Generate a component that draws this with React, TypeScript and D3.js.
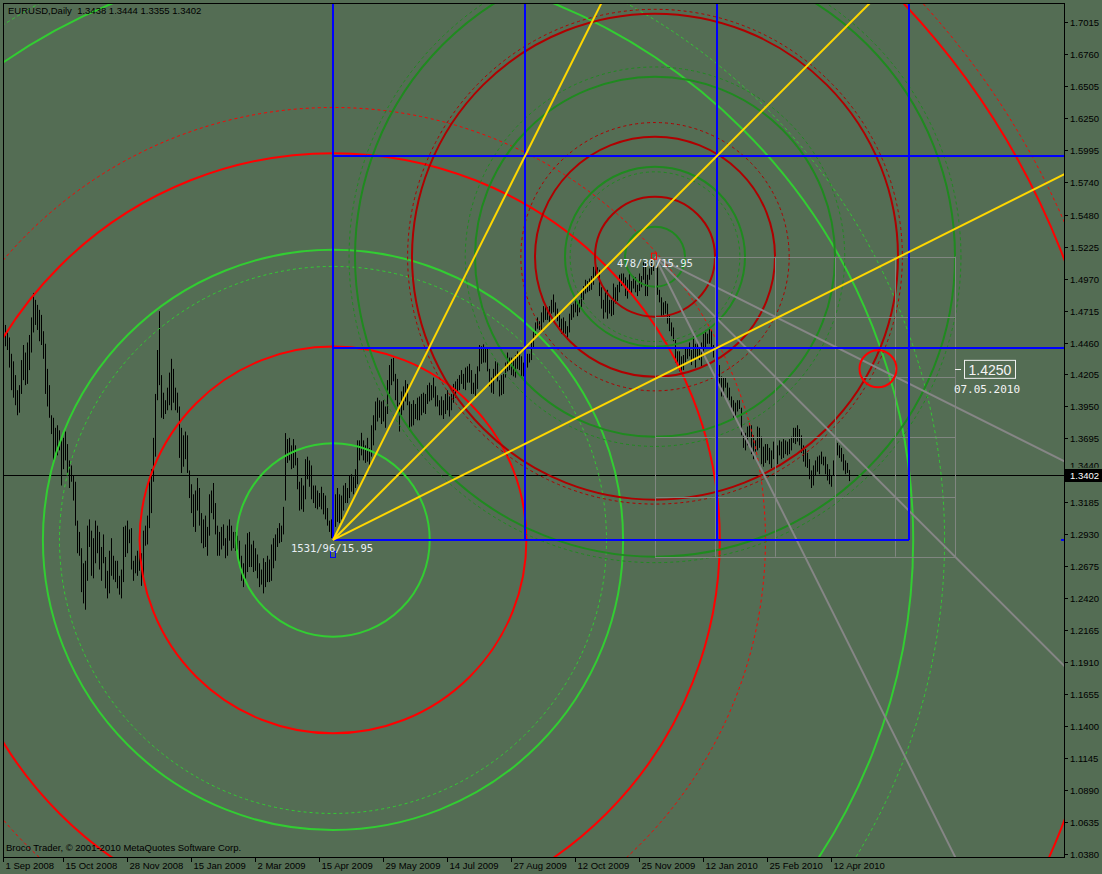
import { useEffect, useRef } from 'react';
import * as d3 from 'd3';

const W = 1102;
const H = 874;

// daily bars, 1 Sep 2008 .. 21 Apr 2010
const highs = [
  1.472, 1.46, 1.454, 1.45, 1.437, 1.431, 1.42, 1.408, 1.412, 1.432,
  1.444, 1.438, 1.446, 1.452, 1.466, 1.4855, 1.48, 1.476, 1.472, 1.468,
  1.455, 1.445, 1.425, 1.412, 1.388, 1.386, 1.378, 1.38, 1.376, 1.368,
  1.37, 1.375, 1.365, 1.352, 1.348, 1.34, 1.335, 1.304, 1.295, 1.282,
  1.27, 1.272, 1.3, 1.305, 1.296, 1.29, 1.304, 1.3, 1.295, 1.283,
  1.293, 1.275, 1.264, 1.28, 1.29, 1.276, 1.272, 1.272, 1.26, 1.265,
  1.299, 1.3, 1.304, 1.297, 1.298, 1.272, 1.276, 1.28, 1.285, 1.278,
  1.296, 1.3, 1.308, 1.338, 1.345, 1.37, 1.405, 1.44, 1.471, 1.42,
  1.406, 1.4, 1.41, 1.422, 1.433, 1.425, 1.41, 1.406, 1.395, 1.378,
  1.372, 1.375, 1.372, 1.344, 1.333, 1.325, 1.328, 1.338, 1.33, 1.31,
  1.305, 1.308, 1.299, 1.325, 1.328, 1.334, 1.318, 1.3, 1.295, 1.299,
  1.301, 1.29, 1.3, 1.305, 1.3, 1.295, 1.295, 1.292, 1.288, 1.276,
  1.27, 1.285, 1.294, 1.295, 1.285, 1.288, 1.282, 1.277, 1.27, 1.265,
  1.274, 1.271, 1.276, 1.273, 1.285, 1.29, 1.293, 1.298, 1.302, 1.3,
  1.315, 1.3738, 1.369, 1.37, 1.364, 1.369, 1.364, 1.354, 1.335, 1.338,
  1.332, 1.353, 1.355, 1.352, 1.348, 1.332, 1.332, 1.328, 1.326, 1.331,
  1.326, 1.324, 1.314, 1.304, 1.305, 1.306, 1.325, 1.33, 1.325, 1.324,
  1.332, 1.334, 1.33, 1.34, 1.341, 1.339, 1.345, 1.368, 1.368, 1.374,
  1.368, 1.364, 1.37, 1.362, 1.38, 1.388, 1.399, 1.402, 1.4, 1.399,
  1.4, 1.395, 1.416, 1.428, 1.433, 1.4338, 1.421, 1.417, 1.398, 1.407,
  1.411, 1.416, 1.413, 1.399, 1.397, 1.4, 1.397, 1.402, 1.403, 1.405,
  1.406, 1.405, 1.412, 1.414, 1.412, 1.418, 1.411, 1.404, 1.4, 1.403,
  1.4, 1.405, 1.408, 1.403, 1.405, 1.413, 1.415, 1.417, 1.42, 1.424,
  1.421, 1.426, 1.427, 1.429, 1.424, 1.414, 1.421, 1.427, 1.444, 1.443,
  1.4445, 1.441, 1.442, 1.425, 1.418, 1.425, 1.431, 1.43, 1.416, 1.42,
  1.421, 1.43, 1.438, 1.434, 1.434, 1.433, 1.436, 1.439, 1.437, 1.435,
  1.43, 1.433, 1.437, 1.437, 1.446, 1.455, 1.462, 1.466, 1.463, 1.47,
  1.475, 1.475, 1.474, 1.475, 1.48, 1.4843, 1.478, 1.473, 1.468, 1.465,
  1.466, 1.463, 1.459, 1.469, 1.476, 1.477, 1.48, 1.479, 1.48, 1.486,
  1.491, 1.496, 1.495, 1.497, 1.499, 1.5063, 1.506, 1.506, 1.504, 1.49,
  1.48, 1.486, 1.488, 1.48, 1.48, 1.493, 1.49, 1.492, 1.5, 1.501,
  1.501, 1.498, 1.496, 1.501, 1.495, 1.499, 1.498, 1.492, 1.501, 1.499,
  1.51, 1.509, 1.5, 1.505, 1.511, 1.511, 1.5144, 1.506, 1.488, 1.482,
  1.478, 1.479, 1.477, 1.468, 1.462, 1.458, 1.448, 1.439, 1.439, 1.435,
  1.436, 1.442, 1.441, 1.446, 1.44, 1.451, 1.445, 1.448, 1.444, 1.446,
  1.453, 1.456, 1.453, 1.458, 1.456, 1.444, 1.442, 1.438, 1.428, 1.419,
  1.418, 1.418, 1.414, 1.41, 1.403, 1.4, 1.398, 1.4, 1.4, 1.394,
  1.375, 1.374, 1.379, 1.38, 1.38, 1.372, 1.368, 1.379, 1.378, 1.371,
  1.363, 1.365, 1.365, 1.362, 1.36, 1.367, 1.363, 1.364, 1.368, 1.367,
  1.369, 1.368, 1.367, 1.369, 1.371, 1.378, 1.378, 1.38, 1.377, 1.372,
  1.364, 1.361, 1.358, 1.353, 1.344, 1.348, 1.352, 1.355, 1.356, 1.359,
  1.355, 1.355, 1.349, 1.345, 1.34, 1.352, 1.369, 1.366, 1.364, 1.362,
  1.357, 1.352, 1.35, 1.3444,
];

const lows = [
  1.456, 1.443, 1.44, 1.426, 1.408, 1.402, 1.396, 1.388, 1.39, 1.405,
  1.416, 1.412, 1.413, 1.424, 1.438, 1.454, 1.46, 1.456, 1.447, 1.444,
  1.433, 1.405, 1.395, 1.386, 1.373, 1.352, 1.358, 1.356, 1.36, 1.332,
  1.345, 1.352, 1.34, 1.33, 1.335, 1.32, 1.3, 1.278, 1.276, 1.247,
  1.238, 1.233, 1.256, 1.283, 1.26, 1.258, 1.27, 1.278, 1.265, 1.256,
  1.27, 1.25, 1.242, 1.246, 1.26, 1.257, 1.255, 1.25, 1.245, 1.242,
  1.255, 1.275, 1.278, 1.286, 1.265, 1.256, 1.262, 1.26, 1.264, 1.252,
  1.26, 1.284, 1.285, 1.298, 1.31, 1.335, 1.355, 1.4, 1.412, 1.386,
  1.385, 1.389, 1.392, 1.396, 1.392, 1.398, 1.392, 1.39, 1.354, 1.342,
  1.347, 1.353, 1.342, 1.322, 1.31, 1.299, 1.295, 1.312, 1.3, 1.286,
  1.282, 1.283, 1.276, 1.292, 1.31, 1.305, 1.293, 1.276, 1.276, 1.281,
  1.284, 1.274, 1.276, 1.288, 1.28, 1.282, 1.28, 1.281, 1.27, 1.256,
  1.251, 1.257, 1.263, 1.267, 1.267, 1.263, 1.264, 1.258, 1.251, 1.253,
  1.246, 1.251, 1.255, 1.255, 1.256, 1.266, 1.272, 1.283, 1.286, 1.287,
  1.293, 1.32, 1.35, 1.352, 1.345, 1.346, 1.348, 1.329, 1.312, 1.313,
  1.311, 1.321, 1.337, 1.331, 1.321, 1.318, 1.314, 1.313, 1.315, 1.313,
  1.309, 1.305, 1.3, 1.295, 1.29, 1.2886, 1.299, 1.303, 1.302, 1.305,
  1.312, 1.318, 1.318, 1.322, 1.327, 1.325, 1.33, 1.333, 1.352, 1.356,
  1.352, 1.35, 1.351, 1.345, 1.355, 1.364, 1.376, 1.383, 1.386, 1.381,
  1.383, 1.378, 1.389, 1.405, 1.412, 1.415, 1.4, 1.395, 1.375, 1.388,
  1.392, 1.399, 1.396, 1.376, 1.379, 1.38, 1.385, 1.384, 1.384, 1.388,
  1.39, 1.389, 1.397, 1.399, 1.4, 1.402, 1.395, 1.395, 1.388, 1.388,
  1.385, 1.389, 1.392, 1.387, 1.392, 1.398, 1.402, 1.407, 1.408, 1.413,
  1.409, 1.408, 1.414, 1.414, 1.405, 1.405, 1.403, 1.409, 1.423, 1.429,
  1.43, 1.43, 1.423, 1.411, 1.406, 1.405, 1.418, 1.415, 1.403, 1.404,
  1.405, 1.418, 1.423, 1.424, 1.42, 1.419, 1.418, 1.425, 1.424, 1.419,
  1.419, 1.422, 1.426, 1.43, 1.432, 1.442, 1.452, 1.457, 1.456, 1.456,
  1.462, 1.464, 1.464, 1.461, 1.469, 1.47, 1.466, 1.463, 1.458, 1.453,
  1.453, 1.453, 1.448, 1.454, 1.464, 1.466, 1.47, 1.467, 1.47, 1.474,
  1.48, 1.485, 1.486, 1.487, 1.488, 1.492, 1.497, 1.498, 1.483, 1.473,
  1.465, 1.47, 1.465, 1.469, 1.467, 1.468, 1.477, 1.479, 1.486, 1.491,
  1.492, 1.483, 1.481, 1.488, 1.484, 1.489, 1.486, 1.483, 1.487, 1.49,
  1.496, 1.483, 1.483, 1.496, 1.5, 1.503, 1.502, 1.484, 1.478, 1.466,
  1.468, 1.469, 1.461, 1.455, 1.451, 1.447, 1.43, 1.425, 1.423, 1.4218,
  1.424, 1.43, 1.433, 1.435, 1.428, 1.432, 1.426, 1.434, 1.432, 1.427,
  1.435, 1.442, 1.445, 1.445, 1.442, 1.434, 1.433, 1.427, 1.412, 1.403,
  1.403, 1.41, 1.402, 1.4, 1.393, 1.385, 1.386, 1.391, 1.393, 1.372,
  1.362, 1.36, 1.364, 1.37, 1.357, 1.353, 1.359, 1.36, 1.362, 1.349,
  1.347, 1.35, 1.352, 1.349, 1.346, 1.353, 1.344, 1.349, 1.356, 1.353,
  1.354, 1.357, 1.356, 1.357, 1.36, 1.366, 1.365, 1.367, 1.364, 1.358,
  1.351, 1.347, 1.346, 1.337, 1.33, 1.332, 1.34, 1.343, 1.341, 1.349,
  1.348, 1.341, 1.336, 1.333, 1.331, 1.34, 1.354, 1.356, 1.354, 1.351,
  1.344, 1.341, 1.342, 1.3355,
];

const dateLabels = [
  '1 Sep 2008', '15 Oct 2008', '28 Nov 2008', '15 Jan 2009', '2 Mar 2009',
  '15 Apr 2009', '29 May 2009', '14 Jul 2009', '27 Aug 2009', '12 Oct 2009',
  '25 Nov 2009', '12 Jan 2010', '25 Feb 2010', '12 Apr 2010',
];
const dateLabelStep = 32;

const priceLabels = [
  '1.7015', '1.6760', '1.6505', '1.6250', '1.5995', '1.5740', '1.5480', '1.5225', '1.4970',
  '1.4715', '1.4460', '1.4205', '1.3950', '1.3695', '1.3440', '1.3185', '1.2930', '1.2675',
  '1.2420', '1.2165', '1.1910', '1.1655', '1.1400', '1.1145', '1.0890', '1.0635', '1.0380',
];

const headerText = 'EURUSD,Daily  1.3438 1.3444 1.3355 1.3402';
const lastClose = 1.3402;
const copyright = 'Broco Trader, \u00a9 2001-2010 MetaQuotes Software Corp.';

// gann pivots: bar index, price, circle unit (bars), grid step (bars)
const pivotLow = { bar: 165, price: 1.2886, unit: 48.35, grid: 96, label: '1531/96/15.95' };
const pivotHigh = { bar: 326, price: 1.5144, unit: 15, grid: 30, label: '478/30/15.95' };
const solidSteps = [1, 2, 3, 4, 6, 8.1, 10];
const dashedSteps = [1, 2, 3, 4, 5];
const fanSlopes = [2, 1, 0.5];

const target = { bar: 437.5, price: 1.425, radius: 9.25, date: '07.05.2010' };

export default function App() {
  const svgRef = useRef<SVGSVGElement>(null);

  useEffect(() => {
    document.body.style.margin = '0';
    const svg = d3.select(svgRef.current);
    svg.selectAll('*').remove();

    const left = 3;
    const top = 3;
    const right = 1064;
    const bottom = 857;

    const x = d3.scaleLinear().domain([0, 530]).range([3, 1063]);
    const y = d3.scaleLinear().domain([1.038, 1.7015]).range([854.3, 22]);
    const font = '"Liberation Sans", Arial, sans-serif';
    const mono = '"DejaVu Sans Mono", monospace';

    svg.append('rect').attr('width', W).attr('height', H).attr('fill', '#546D54');

    svg
      .append('defs')
      .append('clipPath')
      .attr('id', 'plot-clip')
      .append('rect')
      .attr('x', left + 1)
      .attr('y', top + 1)
      .attr('width', right - left - 1)
      .attr('height', bottom - top - 1);

    const plot = svg.append('g').attr('clip-path', 'url(#plot-clip)');

    // price bars
    plot
      .append('g')
      .selectAll('line')
      .data(highs)
      .enter()
      .append('line')
      .attr('x1', (_, i) => Math.round(x(i)) + 0.5)
      .attr('x2', (_, i) => Math.round(x(i)) + 0.5)
      .attr('y1', (d) => y(d))
      .attr('y2', (_, i) => Math.max(y(lows[i]), y(highs[i]) + 1))
      .attr('stroke', '#000')
      .attr('stroke-width', 1);

    // last close line
    plot
      .append('line')
      .attr('x1', left)
      .attr('x2', right)
      .attr('y1', Math.round(y(lastClose)) + 0.5)
      .attr('y2', Math.round(y(lastClose)) + 0.5)
      .attr('stroke', '#000')
      .attr('stroke-width', 1);

    const drawGann = (p: typeof pivotLow, green: string, red: string) => {
      const cx = x(p.bar);
      const cy = y(p.price);
      const u = x(p.bar + p.unit) - x(p.bar);
      const g = plot.append('g');

      g.selectAll('circle.dash')
        .data(dashedSteps)
        .enter()
        .append('circle')
        .attr('cx', cx)
        .attr('cy', cy)
        .attr('r', (n) => 2 * u * Math.sqrt(n * n + 1))
        .attr('fill', 'none')
        .attr('stroke', (_, i) => (i % 2 === 0 ? green : red))
        .attr('stroke-width', 1)
        .attr('stroke-dasharray', '3 3');

      g.selectAll('circle.solid')
        .data(solidSteps)
        .enter()
        .append('circle')
        .attr('cx', cx)
        .attr('cy', cy)
        .attr('r', (m) => m * u)
        .attr('fill', 'none')
        .attr('stroke', (_, i) => (i % 2 === 0 ? green : red))
        .attr('stroke-width', 2);
    };

    drawGann(pivotLow, '#32CD32', '#FF0000');
    drawGann(pivotHigh, '#1F8A1F', '#B00000');

    // gray grid + fan from the top pivot
    {
      const cx = x(pivotHigh.bar);
      const cy = y(pivotHigh.price);
      const step = x(pivotHigh.bar + pivotHigh.grid) - cx;
      const ks = d3.range(0, 6);
      const g = plot.append('g');
      g.selectAll('line.v')
        .data(ks)
        .enter()
        .append('line')
        .attr('x1', (k) => Math.round(cx + k * step) + 0.5)
        .attr('x2', (k) => Math.round(cx + k * step) + 0.5)
        .attr('y1', cy)
        .attr('y2', cy + 5 * step)
        .attr('stroke', '#808680')
        .attr('stroke-width', 1);
      g.selectAll('line.h')
        .data(ks)
        .enter()
        .append('line')
        .attr('x1', cx)
        .attr('x2', cx + 5 * step)
        .attr('y1', (k) => Math.round(cy + k * step) + 0.5)
        .attr('y2', (k) => Math.round(cy + k * step) + 0.5)
        .attr('stroke', '#808680')
        .attr('stroke-width', 1);
      g.selectAll('line.fan')
        .data(fanSlopes)
        .enter()
        .append('line')
        .attr('x1', cx)
        .attr('y1', cy)
        .attr('x2', cx + 2000)
        .attr('y2', (s) => cy + 2000 * s)
        .attr('stroke', '#868686')
        .attr('stroke-width', 2);
    }

    // blue squares + yellow fan from the low pivot
    {
      const cx = x(pivotLow.bar);
      const cy = y(pivotLow.price);
      const step = x(pivotLow.bar + pivotLow.grid) - cx;
      const g = plot.append('g');
      g.selectAll('line.v')
        .data(d3.range(0, 4))
        .enter()
        .append('line')
        .attr('x1', (k) => cx + k * step)
        .attr('x2', (k) => cx + k * step)
        .attr('y1', top)
        .attr('y2', cy)
        .attr('stroke', '#0000FF')
        .attr('stroke-width', 2);
      g.selectAll('line.h')
        .data(d3.range(0, 3))
        .enter()
        .append('line')
        .attr('x1', cx)
        .attr('x2', (k) => (k === 0 ? cx + 3 * step : right))
        .attr('y1', (k) => cy - k * step)
        .attr('y2', (k) => cy - k * step)
        .attr('stroke', '#0000FF')
        .attr('stroke-width', 2);
      g.selectAll('line.fan')
        .data(fanSlopes)
        .enter()
        .append('line')
        .attr('x1', cx)
        .attr('y1', cy)
        .attr('x2', cx + 2000)
        .attr('y2', (s) => cy - 2000 * s)
        .attr('stroke', '#FFD700')
        .attr('stroke-width', 2);
    }

    // target circle
    plot
      .append('circle')
      .attr('cx', x(target.bar))
      .attr('cy', y(target.price))
      .attr('r', x(target.bar + target.radius) - x(target.bar))
      .attr('fill', 'none')
      .attr('stroke', '#FF0000')
      .attr('stroke-width', 2);

    // pivot markers and labels
    const lowX = x(pivotLow.bar);
    const lowY = y(pivotLow.price);
    plot
      .append('rect')
      .attr('x', lowX - 2.5)
      .attr('y', lowY + 11.5)
      .attr('width', 5)
      .attr('height', 6)
      .attr('fill', 'none')
      .attr('stroke', '#0000FF');
    plot
      .append('text')
      .attr('x', lowX - 42)
      .attr('y', lowY + 12)
      .attr('font-family', mono)
      .attr('font-size', 10.5)
      .attr('fill', '#E8EEF4')
      .text(pivotLow.label);

    const highX = x(pivotHigh.bar);
    const highY = y(pivotHigh.price);
    plot
      .append('rect')
      .attr('x', highX - 3.5)
      .attr('y', highY - 3.5)
      .attr('width', 5)
      .attr('height', 6)
      .attr('fill', 'none')
      .attr('stroke', '#FF0000');
    plot
      .append('text')
      .attr('x', highX - 38)
      .attr('y', highY + 10)
      .attr('font-family', mono)
      .attr('font-size', 10.5)
      .attr('fill', '#E8EEF4')
      .text(pivotHigh.label);

    // target label
    const tY = y(target.price);
    const tg = svg.append('g');
    tg.append('line')
      .attr('x1', 955)
      .attr('x2', 961)
      .attr('y1', Math.round(tY) + 0.5)
      .attr('y2', Math.round(tY) + 0.5)
      .attr('stroke', '#F0F0F0');
    tg.append('rect')
      .attr('x', 964.5)
      .attr('y', tY - 8.5)
      .attr('width', 51)
      .attr('height', 18)
      .attr('fill', 'none')
      .attr('stroke', '#F0F0F0');
    tg.append('text')
      .attr('x', 990)
      .attr('y', tY + 6)
      .attr('text-anchor', 'middle')
      .attr('font-family', font)
      .attr('font-size', 14)
      .attr('fill', '#F4F4F4')
      .text(target.price.toFixed(4));
    tg.append('text')
      .attr('x', 987)
      .attr('y', tY + 24)
      .attr('text-anchor', 'middle')
      .attr('font-family', mono)
      .attr('font-size', 11)
      .attr('fill', '#F4F4F4')
      .text(target.date);

    // frame
    svg
      .append('rect')
      .attr('x', left + 0.5)
      .attr('y', top + 0.5)
      .attr('width', right - left)
      .attr('height', bottom - top)
      .attr('fill', 'none')
      .attr('stroke', '#000');

    // texts
    svg
      .append('text')
      .attr('x', 8)
      .attr('y', 14)
      .attr('font-family', font)
      .attr('font-size', 9.5)
      .attr('fill', '#000')
      .attr('xml:space', 'preserve')
      .style('white-space', 'pre')
      .text(headerText);
    svg
      .append('text')
      .attr('x', 6)
      .attr('y', 851)
      .attr('font-family', font)
      .attr('font-size', 9.5)
      .attr('fill', '#000')
      .text(copyright);

    // price axis
    const yAxis = svg.append('g');
    const closeY = Math.round(y(lastClose));
    priceLabels.forEach((lab) => {
      const py = Math.round(y(+lab)) + 0.5;
      yAxis
        .append('line')
        .attr('x1', right)
        .attr('x2', right + 4)
        .attr('y1', py)
        .attr('y2', py)
        .attr('stroke', '#000');
      // the label just above the close box is half covered, as in the terminal
      if (Math.abs(py - closeY) < 6) {
        yAxis
          .append('text')
          .attr('x', 1070)
          .attr('y', closeY - 6)
          .attr('font-family', font)
          .attr('font-size', 9.5)
          .attr('fill', '#000')
          .attr('clip-path', 'inset(0 0 30% 0)')
          .text(lab);
        return;
      }
      yAxis
        .append('text')
        .attr('x', 1070)
        .attr('y', py + 3.5)
        .attr('font-family', font)
        .attr('font-size', 9.5)
        .attr('fill', '#000')
        .text(lab);
    });
    // axis markers for blue levels
    d3.range(0, 3).forEach((k) => {
      const py = y(pivotLow.price) - k * (x(pivotLow.bar + pivotLow.grid) - x(pivotLow.bar));
      yAxis
        .append('line')
        .attr('x1', right - 3)
        .attr('x2', right)
        .attr('y1', py)
        .attr('y2', py)
        .attr('stroke', '#0000FF')
        .attr('stroke-width', 2);
    });
    yAxis
      .append('rect')
      .attr('x', right + 1)
      .attr('y', closeY - 6)
      .attr('width', W - right - 1)
      .attr('height', 13)
      .attr('fill', '#000');
    yAxis
      .append('text')
      .attr('x', 1070)
      .attr('y', closeY + 4)
      .attr('font-family', font)
      .attr('font-size', 9.5)
      .attr('fill', '#fff')
      .text(lastClose.toFixed(4));

    // time axis
    const xAxis = svg.append('g');
    dateLabels.forEach((lab, i) => {
      const px = Math.max(left, Math.round(x(i * dateLabelStep)) - 4) + 0.5;
      xAxis
        .append('line')
        .attr('x1', px)
        .attr('x2', px)
        .attr('y1', bottom)
        .attr('y2', bottom + 5)
        .attr('stroke', '#000');
      xAxis
        .append('text')
        .attr('x', px + 2)
        .attr('y', 869)
        .attr('font-family', font)
        .attr('font-size', 9.5)
        .attr('fill', '#000')
        .text(lab);
    });
  }, []);

  return <svg ref={svgRef} width={W} height={H} style={{ display: 'block' }} />;
}
